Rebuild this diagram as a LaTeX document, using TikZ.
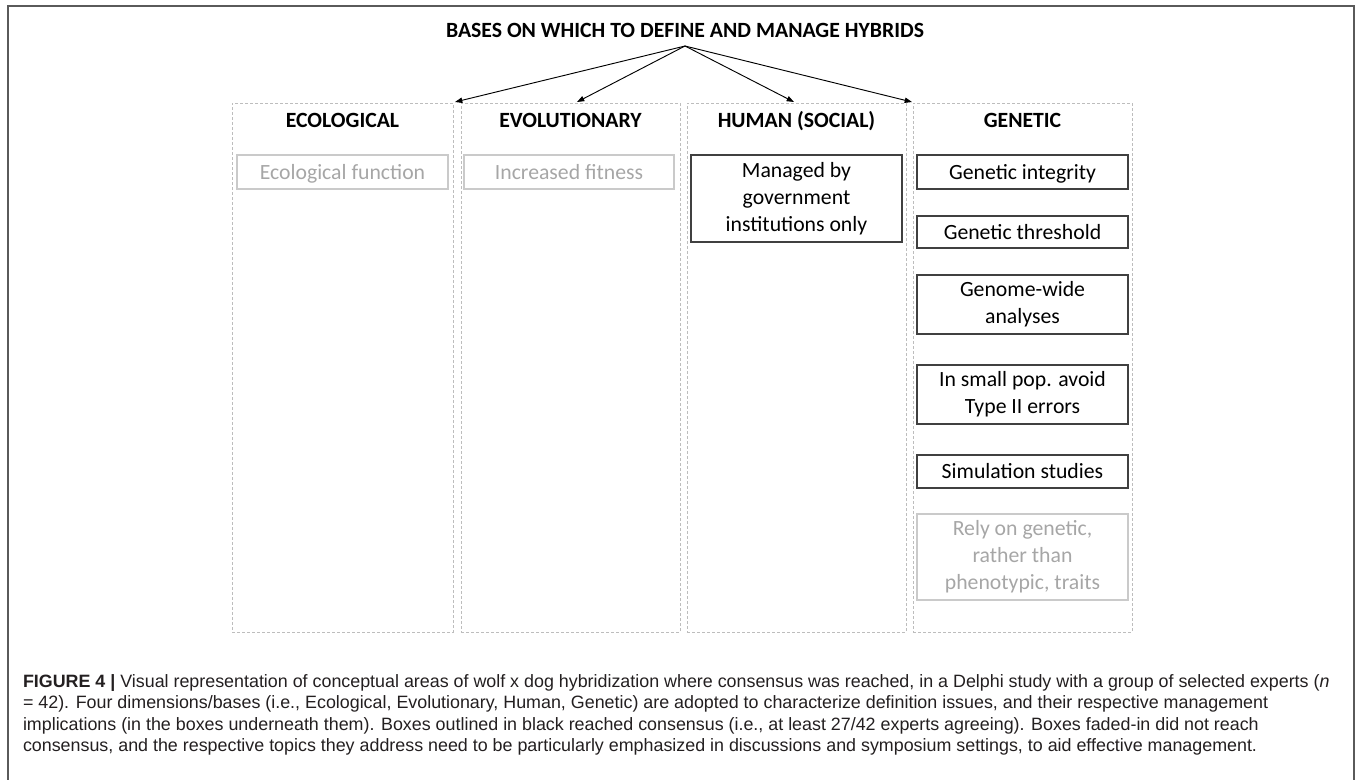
\documentclass[tikz,border=0pt]{standalone}
\usepackage{fontspec}
\setmainfont{Carlito}
\newfontfamily\capfont{Liberation Sans}
\usetikzlibrary{arrows.meta,fit}
\definecolor{frameC}{HTML}{5A5A5A}
\definecolor{dashC}{HTML}{BDBDBD}
\definecolor{fadeLine}{HTML}{CACACA}
\definecolor{fadeText}{HTML}{A6A6A6}
\definecolor{boxLine}{HTML}{404040}
\definecolor{capText}{HTML}{231F20}
\tikzset{
  sz/.style 2 args={minimum width=#1*0.75pt,minimum height=#2*0.75pt},
  oneline/.style={text height=12.5pt,text depth=2pt},
  bodyfont/.style={font=\fontsize{16.3}{20.25}\selectfont},
  headfont/.style={font=\fontsize{16.3}{20.25}\selectfont\bfseries},
  column/.style={draw=dashC,line width=0.75pt,dash pattern=on 2.25pt off 1.5pt},
  okbox/.style={bodyfont,draw=boxLine,line width=0.9pt,align=center,text=black},
  fadebox/.style={bodyfont,draw=fadeLine,line width=0.9pt,align=center,text=fadeText},
  arr/.style={draw=black,line width=0.7pt,-{Triangle[length=5.5pt,width=4pt]}},
  capstyle/.style={font=\capfont\fontsize{13.4}{18}\selectfont,text=capText,anchor=base west}
}
\begin{document}
\begin{tikzpicture}[x=0.75pt,y=-0.75pt,
  every node/.style={inner sep=0pt,outer sep=0pt}]
\useasboundingbox (0,0) rectangle (1360,779);
\clip (0,0) rectangle (1360,779);
% outer frame
\draw[frameC,line width=1.4pt] (8,800) -- (8,6) -- (1354,6) -- (1354,800);
% title
\node[headfont,oneline] (title) at (685,30) {BASES ON WHICH TO DEFINE AND MANAGE HYBRIDS};
\coordinate (apex) at (685,46);
% columns
\node[column,fit={(232,103)(453,632)}] (col1) {};
\node[column,fit={(461,103)(680,632)}] (col2) {};
\node[column,fit={(687,103)(906,632)}] (col3) {};
\node[column,fit={(913,103)(1132,632)}] (col4) {};
% headers
\node[headfont,oneline] (h1) at (342.5,120) {ECOLOGICAL};
\node[headfont,oneline] (h2) at (570.5,120) {EVOLUTIONARY};
\node[headfont,oneline] (h3) at (796.5,120) {HUMAN (SOCIAL)};
\node[headfont,oneline] (h4) at (1022.5,120) {GENETIC};
% arrows
\coordinate (t1) at (455,102);
\coordinate (t2) at (577,102);
\coordinate (t3) at (794,102);
\coordinate (t4) at (912,102);
\draw[arr] (apex) -- (t1);
\draw[arr] (apex) -- (t2);
\draw[arr] (apex) -- (t3);
\draw[arr] (apex) -- (t4);
% boxes
\node[fadebox,oneline,sz={211}{34}] (b1) at (342.5,172) {Ecological function};
\node[fadebox,oneline,sz={210}{34}] (b2) at (569,172) {Increased fitness};
\node[okbox,sz={211}{87}] (b3) at (796.5,198.5) {Managed by\\government\\institutions only};
\node[okbox,oneline,sz={211}{34}] (g1) at (1022.5,172) {Genetic integrity};
\node[okbox,oneline,sz={211}{32}] (g2) at (1022.5,232) {Genetic threshold};
\node[okbox,sz={211}{59}] (g3) at (1022.5,304.5) {Genome-wide\\analyses};
\node[okbox,sz={211}{59}] (g4) at (1022.5,394.5) {In small pop. avoid\\Type II errors};
\node[okbox,oneline,sz={211}{33}] (g5) at (1022.5,471.5) {Simulation studies};
\node[fadebox,sz={211}{86}] (g6) at (1022.5,557) {Rely on genetic,\\rather than\\phenotypic, traits};
% caption
\node[capstyle] (cap1) at (23,687) {\textbf{FIGURE 4 |} Visual representation of conceptual areas of wolf x dog hybridization where consensus was reached, in a Delphi study with a group of selected experts (\textit{n}};
\node[capstyle] (cap2) at (23,708.5) {= 42). Four dimensions/bases (i.e., Ecological, Evolutionary, Human, Genetic) are adopted to characterize definition issues, and their respective management};
\node[capstyle] (cap3) at (23,730) {implications (in the boxes underneath them). Boxes outlined in black reached consensus (i.e., at least 27/42 experts agreeing). Boxes faded-in did not reach};
\node[capstyle] (cap4) at (23,751.5) {consensus, and the respective topics they address need to be particularly emphasized in discussions and symposium settings, to aid effective management.};
\end{tikzpicture}
\end{document}
